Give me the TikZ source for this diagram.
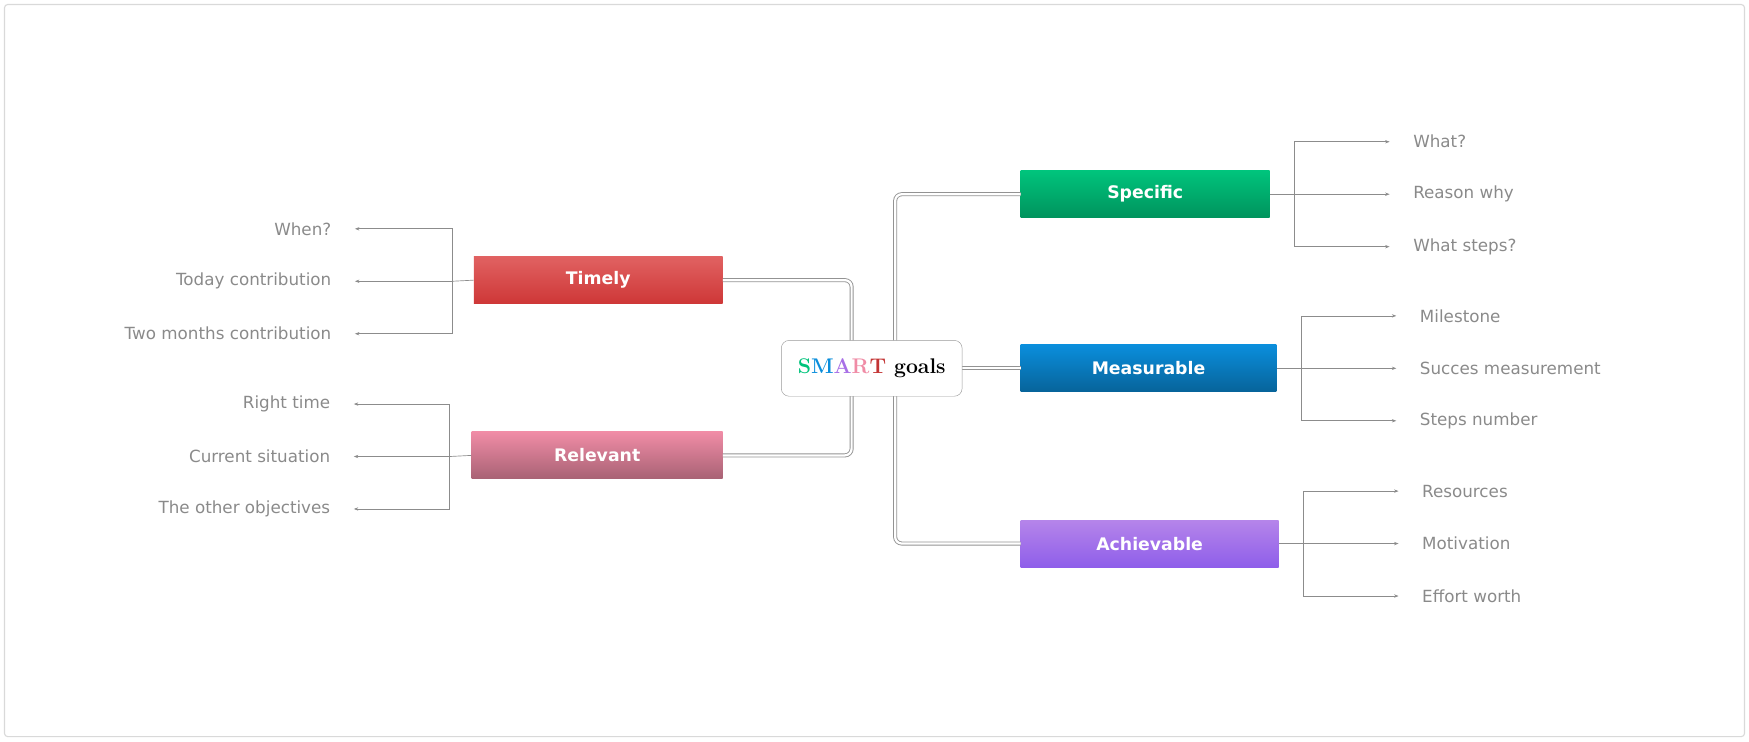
\documentclass[tikz,border=0pt]{standalone}
\usepackage{fontspec}
\setsansfont{DejaVu Sans}
\usetikzlibrary{arrows.meta}
\definecolor{lg}{HTML}{8A8A8A}
\definecolor{cS}{HTML}{00C47C}\definecolor{cM}{HTML}{0A8EDC}\definecolor{cA}{HTML}{A86FE6}
\definecolor{cR}{HTML}{F08CA6}\definecolor{cT}{HTML}{D93A3A}
\begin{document}
\begin{tikzpicture}[x=1pt,y=-1pt,
 box/.style={minimum height=42pt,font=\sffamily\bfseries\fontsize{15.5}{18}\selectfont,text=white,inner sep=0pt},
 leaf/.style={font=\sffamily\fontsize{15}{18}\selectfont,text=lg,inner sep=0pt},
 trunk/.style={draw=gray!85,double=white,double distance=2pt,line width=0.8pt,rounded corners=6pt},
 br/.style={draw=gray!90,line width=0.6pt},
 ar/.style={br,-{Stealth[length=4pt,width=3pt]}}]
\useasboundingbox (0,0) rectangle (1567,664);
\draw[gray!30,line width=1pt,rounded corners=3pt] (4,4) rectangle (1563,660);
% boxes
\node[box,minimum width=223pt,top color=cS,bottom color=cS!75!black] (S) at (1026,174) {Specific};
\node[box,minimum width=229pt,top color=cM,bottom color=cM!70!black] (M) at (1029,330) {Measurable};
\node[box,minimum width=231pt,top color=cA!85!white,bottom color=cA!85!blue] (A) at (1030,487) {Achievable};
\node[box,minimum width=223pt,top color=cT!80!white,bottom color=cT!95!black] (T) at (536,251) {Timely};
\node[box,minimum width=225pt,top color=cR,bottom color=cR!70!black] (R) at (535,408) {Relevant};
% trunks
\coordinate (cl) at (763,330); \coordinate (cr) at (802,330);
\draw[trunk] (T.east) -| (cl) |- (R.east);
\draw[trunk] (S.west) -| (cr) |- (A.west);
\draw[trunk] (cr) -- (M.west);
\node[draw=gray!80,fill=white,rounded corners=7pt,minimum width=162pt,minimum height=50pt,font=\bfseries\fontsize{19}{22}\selectfont] (C) at (781,330)
 {\textcolor{cS}{S}\textcolor{cM}{M}\textcolor{cA}{A}\textcolor{cR}{R}\textcolor{cT!90!black}{T} goals};
% leaves right
\foreach \n/\bx/\ax/\tx/\y/\a/\b/\c in {S/1160/1245/1266/174/What?/Reason why/What steps?,
  M/1166/1251/1272/330/Milestone/Succes measurement/Steps number,
  A/1168/1253/1274/487/Resources/Motivation/Effort worth}{
 \coordinate (\n b) at (\bx,\y);
 \node[leaf,anchor=west] (\n1) at (\tx,\y-47) {\a};
 \node[leaf,anchor=west] (\n2) at (\tx,\y) {\b};
 \node[leaf,anchor=west] (\n3) at (\tx,\y+47) {\c};
 \draw[br] (\n.east) -- (\n b);
 \draw[ar] (\n b) |- ([xshift=-21pt]\n1.west);
 \draw[ar] (\n b) -- ([xshift=-21pt]\n2.west);
 \draw[ar] (\n b) |- ([xshift=-21pt]\n3.west);
}
% leaves left
\foreach \n/\bx/\tx/\y/\a/\b/\c in {T/405/297/252/When?/Today contribution/Two months contribution,
  R/403/296/409/Right time/Current situation/The other objectives}{
 \coordinate (\n b) at (\bx,\y);
 \node[leaf,anchor=east] (\n1) at (\tx,\y-47) {\a};
 \node[leaf,anchor=east] (\n2) at (\tx,\y) {\b};
 \node[leaf,anchor=east] (\n3) at (\tx,\y+47) {\c};
 \draw[br] (\n.west) -- (\n b);
 \draw[ar] (\n b) |- ([xshift=21pt]\n1.east);
 \draw[ar] (\n b) -- ([xshift=21pt]\n2.east);
 \draw[ar] (\n b) |- ([xshift=21pt]\n3.east);
}
\end{tikzpicture}
\end{document}
